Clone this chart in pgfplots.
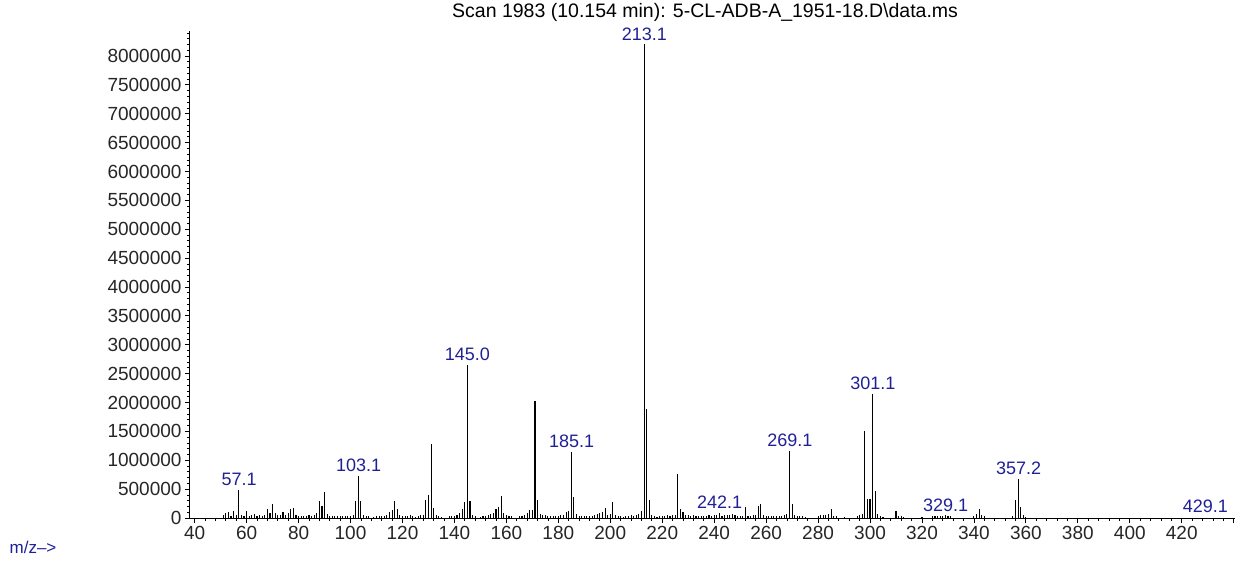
\documentclass[border=0pt]{standalone}
\usepackage{fontspec}
\setmainfont{Liberation Sans}
\usepackage{pgfplots}
\pgfplotsset{compat=1.18}
\definecolor{labblue}{RGB}{32,32,150}
\begin{document}
\begin{tikzpicture}
\node[anchor=west, inner sep=0pt, font=\fontsize{19.5bp}{22bp}\selectfont] at (262bp,506bp) {Scan 1983 (10.154 min): 5-CL-ADB-A\_1951-18.D\textbackslash data.ms};
\begin{axis}[
  at={(0,0)}, anchor=south west,
  width=1045bp, height=487bp, scale only axis,
  xmin=38.2, xmax=440.5, ymin=0, ymax=8433000,
  clip=false,
  axis lines=left, axis line style={-, line width=1bp, black},
  tick align=outside,
  major tick length=5bp, minor tick length=2.5bp,
  tick style={black, line width=0.8bp},
  xtick={40,60,80,100,120,140,160,180,200,220,240,260,280,300,320,340,360,380,400,420},
  extra x ticks={440}, extra x tick labels={},
  minor xtick={44,48,52,56,64,68,72,76,84,88,92,96,104,108,112,116,124,128,132,136,144,148,152,156,164,168,172,176,184,188,192,196,204,208,212,216,224,228,232,236,244,248,252,256,264,268,272,276,284,288,292,296,304,308,312,316,324,328,332,336,344,348,352,356,364,368,372,376,384,388,392,396,404,408,412,416,424,428,432,436},
  ytick={0,5e5,10e5,15e5,20e5,25e5,30e5,35e5,40e5,45e5,50e5,55e5,60e5,65e5,70e5,75e5,80e5},
  minor ytick={1e5,2e5,3e5,4e5,6e5,7e5,8e5,9e5,11e5,12e5,13e5,14e5,16e5,17e5,18e5,19e5,21e5,22e5,23e5,24e5,26e5,27e5,28e5,29e5,31e5,32e5,33e5,34e5,36e5,37e5,38e5,39e5,41e5,42e5,43e5,44e5,46e5,47e5,48e5,49e5,51e5,52e5,53e5,54e5,56e5,57e5,58e5,59e5,61e5,62e5,63e5,64e5,66e5,67e5,68e5,69e5,71e5,72e5,73e5,74e5,76e5,77e5,78e5,79e5,81e5,82e5,83e5,84e5},
  scaled y ticks=false, scaled x ticks=false,
  yticklabel style={/pgf/number format/fixed, /pgf/number format/1000 sep={}, /pgf/number format/assume math mode=true},
  xticklabel style={/pgf/number format/assume math mode=true},
  tick label style={font=\fontsize{19bp}{22bp}\selectfont, text=black!85},
]
\addplot[ycomb, black, line width=1.1bp, mark=none] coordinates {
(51,60000) (52,95000) (53,110000) (54,40000) (55,125000) (56,60000) (57,490000) (58,50000) (59,40000) (60,125000)
(61,30000) (62,60000) (63,70000) (64,40000) (65,60000) (66,40000) (67,60000) (68,150000) (69,90000) (70,240000)
(71,90000) (72,50000) (73,60000) (74,110000) (75,50000) (76,90000) (77,150000) (78,180000) (79,50000) (80,30000)
(81,40000) (82,30000) (83,40000) (84,50000) (85,40000) (86,60000) (87,90000) (88,290000) (89,200000) (90,455000)
(91,70000) (92,40000) (93,30000) (94,40000) (95,30000) (96,30000) (97,40000) (98,30000) (99,40000) (100,30000)
(101,50000) (102,290000) (103,735000) (104,290000) (105,60000) (106,40000) (107,30000) (109,20000) (110,40000)
(111,40000) (112,30000) (113,40000) (114,50000) (115,110000) (116,130000) (117,300000) (118,150000) (119,60000) (120,30000)
(121,40000) (122,30000) (123,50000) (124,30000) (125,20000) (126,30000) (127,60000) (128,60000) (129,320000) (130,405000)
(131,1290000) (132,180000) (133,60000) (134,30000) (135,20000) (138,40000) (139,40000) (140,40000)
(141,60000) (142,80000) (143,150000) (144,275000) (145,2650000) (146,300000) (147,60000) (148,30000) (150,20000)
(151,30000) (152,40000) (153,60000) (154,70000) (155,80000) (156,155000) (157,185000) (158,380000) (159,90000) (160,50000)
(161,40000) (162,30000) (165,30000) (166,40000) (167,60000) (168,90000) (169,130000) (170,130000)
(171,2030000) (172,310000) (173,70000) (174,60000) (175,50000) (176,30000) (177,30000) (178,40000) (179,30000) (180,40000)
(181,60000) (182,50000) (183,110000) (184,125000) (185,1140000) (186,370000) (187,70000) (188,40000) (189,30000) (190,40000)
(191,40000) (192,30000) (193,40000) (194,60000) (195,70000) (196,90000) (197,100000) (198,170000) (199,60000) (200,70000)
(201,275000) (202,60000) (203,40000) (204,30000) (205,20000) (206,30000) (207,40000) (208,50000) (209,40000) (210,60000)
(211,70000) (212,125000) (213,8200000) (214,1880000) (215,310000) (216,60000) (217,30000) (218,20000) (219,30000) (220,40000)
(221,30000) (222,50000) (223,40000) (224,60000) (225,50000) (226,760000) (227,150000) (228,110000) (229,60000) (230,50000)
(231,40000) (232,50000) (233,40000) (234,30000) (235,40000) (236,30000) (237,40000) (238,60000) (239,40000) (240,60000)
(241,50000) (242,85000) (243,40000) (244,60000) (245,50000) (246,60000) (247,70000) (248,60000) (249,40000) (250,30000)
(251,40000) (252,185000) (253,40000) (254,30000) (255,50000) (256,60000) (257,200000) (258,240000) (259,60000) (260,40000)
(261,30000) (262,30000) (263,40000) (264,30000) (265,40000) (266,30000) (267,60000) (268,70000) (269,1165000) (270,240000)
(271,50000) (272,40000) (273,40000) (274,30000) (275,20000) (280,30000)
(281,50000) (282,60000) (283,60000) (284,70000) (285,155000) (286,40000) (287,30000) (290,20000)
(295,40000) (296,60000) (297,70000) (298,1510000) (299,330000) (300,330000)
(301,2150000) (302,460000) (303,70000) (304,30000) (305,20000) (310,125000)
(311,40000) (312,30000) (313,20000) (320,20000) (324,30000) (325,40000) (326,40000) (327,30000) (328,40000) (329,45000) (330,30000)
(331,30000) (340,40000) (341,70000) (342,155000) (343,50000) (344,30000)
(355,40000) (356,320000) (357,680000) (358,185000) (359,50000) (360,20000) (429,8000)
};
\addplot[only marks, mark=none, nodes near coords, point meta=explicit symbolic,
  every node near coord/.append style={anchor=south, inner sep=0pt, yshift=4bp, text=labblue, font=\fontsize{18bp}{21bp}\selectfont}]
coordinates {
(57.1,490000) [57.1]
(103.1,735000) [103.1]
(145.0,2650000) [145.0]
(185.1,1140000) [185.1]
(213.1,8200000) [213.1]
(242.1,85000) [242.1]
(269.1,1165000) [269.1]
(301.1,2150000) [301.1]
(329.1,45000) [329.1]
(357.2,680000) [357.2]
(429.1,20000) [429.1]
};
\end{axis}
\node[text=labblue, font=\fontsize{17bp}{20bp}\selectfont] at (-157bp,-29bp) {m/z-->};
\pgfresetboundingbox
\path (-190bp,-43bp) rectangle (1050bp,518bp);
\end{tikzpicture}
\end{document}
